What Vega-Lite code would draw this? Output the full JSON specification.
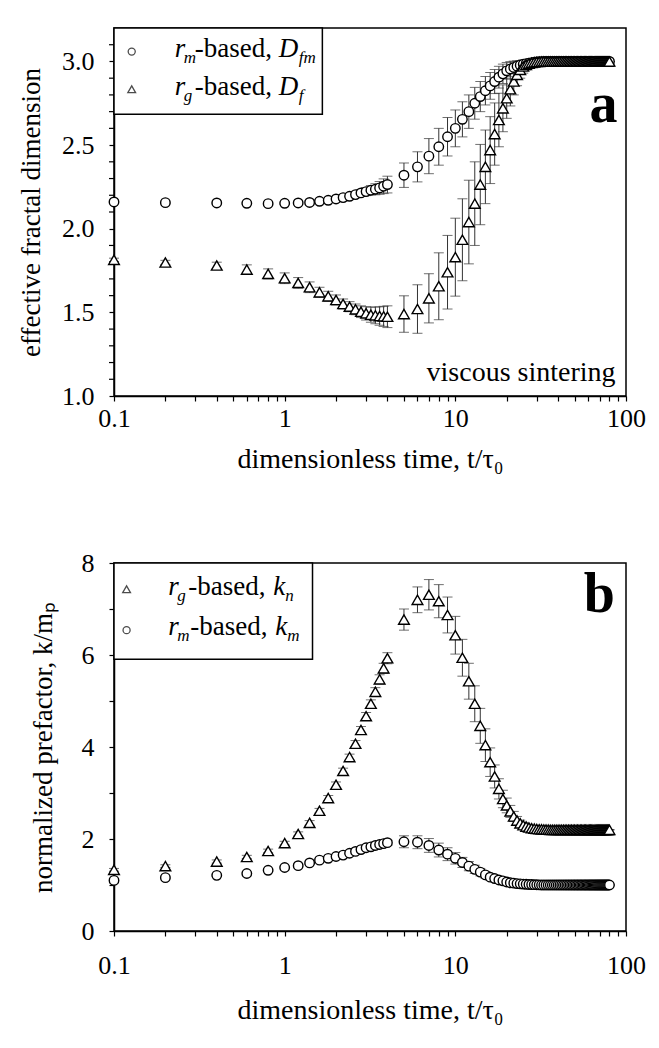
{
  "$schema": "https://vega.github.io/schema/vega-lite/v6.json",
  "padding": {"left": 16, "top": 26, "right": 5, "bottom": 5},
  "background": "white",
  "spacing": 75,
  "config": {
    "view": {"stroke": "black", "strokeWidth": 1.5},
    "font": "Liberation Serif, Times New Roman, serif",
    "axis": {
      "labelFont": "Liberation Serif, Times New Roman, serif", "titleFont": "Liberation Serif, Times New Roman, serif",
      "labelFontSize": 26, "titleFontSize": 27, "titleFontWeight": "normal",
      "labelColor": "black", "titleColor": "black",
      "domainColor": "black", "tickColor": "black", "domainWidth": 1.5, "tickWidth": 1.2, "tickSize": 5,
      "grid": false, "labelOverlap": false, "labelFlush": false
    },
    "axisY": {"labelPadding": 15}
  },
  "datasets": {
    "minor": [
      {"my":1.1},{"my":1.2},{"my":1.3},{"my":1.4},{"my":1.6},{"my":1.7},{"my":1.8},{"my":1.9},
      {"my":2.1},{"my":2.2},{"my":2.3},{"my":2.4},{"my":2.6},{"my":2.7},{"my":2.8},{"my":2.9},{"my":3.1}
    ],
    "d": [
      {"t":0.1,"am":2.16,"ame":0.005,"ag":1.814,"age":0.01,"bm":1.10,"bme":0.02,"bg":1.33,"bge":0.03},
      {"t":0.2,"am":2.156,"ame":0.005,"ag":1.798,"age":0.013,"bm":1.16,"bme":0.02,"bg":1.41,"bge":0.03},
      {"t":0.4,"am":2.154,"ame":0.005,"ag":1.78,"age":0.02,"bm":1.21,"bme":0.02,"bg":1.51,"bge":0.035},
      {"t":0.6,"am":2.152,"ame":0.005,"ag":1.756,"age":0.028,"bm":1.25,"bme":0.02,"bg":1.61,"bge":0.035},
      {"t":0.8,"am":2.15,"ame":0.005,"ag":1.73,"age":0.03,"bm":1.32,"bme":0.02,"bg":1.74,"bge":0.04},
      {"t":1.0,"am":2.152,"ame":0.006,"ag":1.704,"age":0.032,"bm":1.38,"bme":0.02,"bg":1.91,"bge":0.04},
      {"t":1.2,"am":2.154,"ame":0.007,"ag":1.676,"age":0.032,"bm":1.42,"bme":0.02,"bg":2.11,"bge":0.045},
      {"t":1.4,"am":2.157,"ame":0.008,"ag":1.65,"age":0.032,"bm":1.48,"bme":0.025,"bg":2.35,"bge":0.05},
      {"t":1.6,"am":2.164,"ame":0.009,"ag":1.62,"age":0.03,"bm":1.54,"bme":0.025,"bg":2.615,"bge":0.05},
      {"t":1.8,"am":2.17,"ame":0.01,"ag":1.596,"age":0.03,"bm":1.58,"bme":0.025,"bg":2.89,"bge":0.055},
      {"t":2.0,"am":2.178,"ame":0.012,"ag":1.574,"age":0.03,"bm":1.62,"bme":0.03,"bg":3.18,"bge":0.06},
      {"t":2.2,"am":2.186,"ame":0.014,"ag":1.55,"age":0.03,"bm":1.65,"bme":0.03,"bg":3.48,"bge":0.06},
      {"t":2.4,"am":2.194,"ame":0.016,"ag":1.534,"age":0.03,"bm":1.69,"bme":0.03,"bg":3.78,"bge":0.065},
      {"t":2.6,"am":2.204,"ame":0.018,"ag":1.518,"age":0.032,"bm":1.73,"bme":0.035,"bg":4.07,"bge":0.07},
      {"t":2.8,"am":2.214,"ame":0.02,"ag":1.504,"age":0.035,"bm":1.77,"bme":0.035,"bg":4.37,"bge":0.075},
      {"t":3.0,"am":2.222,"ame":0.024,"ag":1.494,"age":0.04,"bm":1.81,"bme":0.04,"bg":4.67,"bge":0.08},
      {"t":3.2,"am":2.23,"ame":0.028,"ag":1.486,"age":0.045,"bm":1.83,"bme":0.04,"bg":4.94,"bge":0.085},
      {"t":3.4,"am":2.236,"ame":0.033,"ag":1.482,"age":0.05,"bm":1.86,"bme":0.045,"bg":5.2,"bge":0.09},
      {"t":3.6,"am":2.244,"ame":0.038,"ag":1.478,"age":0.055,"bm":1.88,"bme":0.05,"bg":5.47,"bge":0.1},
      {"t":3.8,"am":2.254,"ame":0.044,"ag":1.476,"age":0.06,"bm":1.9,"bme":0.05,"bg":5.71,"bge":0.11},
      {"t":4.0,"am":2.264,"ame":0.05,"ag":1.474,"age":0.065,"bm":1.92,"bme":0.055,"bg":5.93,"bge":0.12},
      {"t":5,"am":2.32,"ame":0.073,"ag":1.49,"age":0.109,"bm":1.94,"bme":0.13,"bg":6.77,"bge":0.23},
      {"t":6,"am":2.37,"ame":0.09,"ag":1.52,"age":0.145,"bm":1.93,"bme":0.14,"bg":7.2,"bge":0.28},
      {"t":7,"am":2.434,"ame":0.105,"ag":1.584,"age":0.147,"bm":1.86,"bme":0.15,"bg":7.31,"bge":0.33},
      {"t":8,"am":2.49,"ame":0.11,"ag":1.656,"age":0.2,"bm":1.76,"bme":0.15,"bg":7.17,"bge":0.36},
      {"t":9,"am":2.55,"ame":0.115,"ag":1.74,"age":0.22,"bm":1.67,"bme":0.14,"bg":6.87,"bge":0.39},
      {"t":10,"am":2.6,"ame":0.11,"ag":1.83,"age":0.233,"bm":1.58,"bme":0.125,"bg":6.43,"bge":0.41},
      {"t":11,"am":2.654,"ame":0.105,"ag":1.934,"age":0.245,"bm":1.49,"bme":0.11,"bg":5.94,"bge":0.4},
      {"t":12,"am":2.70,"ame":0.1,"ag":2.04,"age":0.25,"bm":1.41,"bme":0.1,"bg":5.43,"bge":0.39},
      {"t":13,"am":2.75,"ame":0.095,"ag":2.15,"age":0.25,"bm":1.34,"bme":0.09,"bg":4.94,"bge":0.39},
      {"t":14,"am":2.79,"ame":0.09,"ag":2.264,"age":0.24,"bm":1.28,"bme":0.08,"bg":4.46,"bge":0.38},
      {"t":15,"am":2.825,"ame":0.085,"ag":2.37,"age":0.22,"bm":1.22,"bme":0.07,"bg":4.04,"bge":0.355},
      {"t":16,"am":2.854,"ame":0.08,"ag":2.47,"age":0.2,"bm":1.17,"bme":0.06,"bg":3.67,"bge":0.31},
      {"t":17,"am":2.88,"ame":0.072,"ag":2.566,"age":0.186,"bm":1.14,"bme":0.05,"bg":3.36,"bge":0.25},
      {"t":18,"am":2.906,"ame":0.065,"ag":2.65,"age":0.16,"bm":1.11,"bme":0.045,"bg":3.09,"bge":0.22},
      {"t":19,"am":2.926,"ame":0.058,"ag":2.72,"age":0.14,"bm":1.09,"bme":0.04,"bg":2.87,"bge":0.19},
      {"t":20,"am":2.944,"ame":0.05,"ag":2.78,"age":0.12,"bm":1.065,"bme":0.035,"bg":2.73,"bge":0.16},
      {"t":21,"am":2.955,"ame":0.044,"ag":2.834,"age":0.1,"bm":1.05,"bme":0.03,"bg":2.6,"bge":0.13},
      {"t":22,"am":2.964,"ame":0.038,"ag":2.88,"age":0.08,"bm":1.04,"bme":0.025,"bg":2.49,"bge":0.11},
      {"t":23,"am":2.972,"ame":0.032,"ag":2.92,"age":0.065,"bm":1.03,"bme":0.02,"bg":2.4,"bge":0.09},
      {"t":24,"am":2.978,"ame":0.027,"ag":2.95,"age":0.05,"bm":1.025,"bme":0.016,"bg":2.34,"bge":0.07},
      {"t":25,"am":2.983,"ame":0.022,"ag":2.97,"age":0.04,"bm":1.02,"bme":0.012,"bg":2.3,"bge":0.06},
      {"t":26,"am":2.987,"ame":0.018,"ag":2.98,"age":0.03,"bm":1.015,"bme":0.01,"bg":2.27,"bge":0.05},
      {"t":27,"am":2.99,"ame":0.014,"ag":2.987,"age":0.022,"bm":1.012,"bme":0.008,"bg":2.25,"bge":0.04},
      {"t":28,"am":2.993,"ame":0.01,"ag":2.992,"age":0.015,"bm":1.01,"bme":0.006,"bg":2.235,"bge":0.03},
      {"t":29,"am":2.995,"ame":0.007,"ag":2.995,"age":0.01,"bm":1.007,"bme":0.004,"bg":2.225,"bge":0.022},
      {"t":30,"am":2.997,"ame":0.005,"ag":2.997,"age":0.006,"bm":1.005,"bme":0.003,"bg":2.218,"bge":0.015},
      {"t":31,"am":2.998,"ame":0.003,"ag":2.998,"age":0.003,"bm":1.003,"bme":0.002,"bg":2.213,"bge":0.01},
      {"t":32,"am":2.999,"ame":0.002,"ag":2.999,"age":0.002,"bm":1.0,"bme":0,"bg":2.21,"bge":0.007},
      {"t":33,"am":3,"ame":0,"ag":3,"age":0,"bm":1,"bme":0,"bg":2.207,"bge":0.005},
      {"t":34,"am":3,"ame":0,"ag":3,"age":0,"bm":1,"bme":0,"bg":2.205,"bge":0.003},
      {"t":35,"am":3,"ame":0,"ag":3,"age":0,"bm":1,"bme":0,"bg":2.203,"bge":0.002},
      {"t":36,"am":3,"ame":0,"ag":3,"age":0,"bm":1,"bme":0,"bg":2.2,"bge":0},
      {"t":37,"am":3,"ame":0,"ag":3,"age":0,"bm":1,"bme":0,"bg":2.2,"bge":0},
      {"t":38,"am":3,"ame":0,"ag":3,"age":0,"bm":1,"bme":0,"bg":2.2,"bge":0},
      {"t":39,"am":3,"ame":0,"ag":3,"age":0,"bm":1,"bme":0,"bg":2.2,"bge":0},
      {"t":40,"am":3,"ame":0,"ag":3,"age":0,"bm":1,"bme":0,"bg":2.2,"bge":0},
      {"t":41,"am":3,"ame":0,"ag":3,"age":0,"bm":1,"bme":0,"bg":2.2,"bge":0},
      {"t":42,"am":3,"ame":0,"ag":3,"age":0,"bm":1,"bme":0,"bg":2.2,"bge":0},
      {"t":43,"am":3,"ame":0,"ag":3,"age":0,"bm":1,"bme":0,"bg":2.2,"bge":0},
      {"t":44,"am":3,"ame":0,"ag":3,"age":0,"bm":1,"bme":0,"bg":2.2,"bge":0},
      {"t":45,"am":3,"ame":0,"ag":3,"age":0,"bm":1,"bme":0,"bg":2.2,"bge":0},
      {"t":46,"am":3,"ame":0,"ag":3,"age":0,"bm":1,"bme":0,"bg":2.2,"bge":0},
      {"t":47,"am":3,"ame":0,"ag":3,"age":0,"bm":1,"bme":0,"bg":2.2,"bge":0},
      {"t":48,"am":3,"ame":0,"ag":3,"age":0,"bm":1,"bme":0,"bg":2.2,"bge":0},
      {"t":49,"am":3,"ame":0,"ag":3,"age":0,"bm":1,"bme":0,"bg":2.2,"bge":0},
      {"t":50,"am":3,"ame":0,"ag":3,"age":0,"bm":1,"bme":0,"bg":2.2,"bge":0},
      {"t":51,"am":3,"ame":0,"ag":3,"age":0,"bm":1,"bme":0,"bg":2.2,"bge":0},
      {"t":52,"am":3,"ame":0,"ag":3,"age":0,"bm":1,"bme":0,"bg":2.2,"bge":0},
      {"t":53,"am":3,"ame":0,"ag":3,"age":0,"bm":1,"bme":0,"bg":2.2,"bge":0},
      {"t":54,"am":3,"ame":0,"ag":3,"age":0,"bm":1,"bme":0,"bg":2.2,"bge":0},
      {"t":55,"am":3,"ame":0,"ag":3,"age":0,"bm":1,"bme":0,"bg":2.2,"bge":0},
      {"t":56,"am":3,"ame":0,"ag":3,"age":0,"bm":1,"bme":0,"bg":2.2,"bge":0},
      {"t":57,"am":3,"ame":0,"ag":3,"age":0,"bm":1,"bme":0,"bg":2.2,"bge":0},
      {"t":58,"am":3,"ame":0,"ag":3,"age":0,"bm":1,"bme":0,"bg":2.2,"bge":0},
      {"t":59,"am":3,"ame":0,"ag":3,"age":0,"bm":1,"bme":0,"bg":2.2,"bge":0},
      {"t":60,"am":3,"ame":0,"ag":3,"age":0,"bm":1,"bme":0,"bg":2.2,"bge":0},
      {"t":61,"am":3,"ame":0,"ag":3,"age":0,"bm":1,"bme":0,"bg":2.2,"bge":0},
      {"t":62,"am":3,"ame":0,"ag":3,"age":0,"bm":1,"bme":0,"bg":2.2,"bge":0},
      {"t":63,"am":3,"ame":0,"ag":3,"age":0,"bm":1,"bme":0,"bg":2.2,"bge":0},
      {"t":64,"am":3,"ame":0,"ag":3,"age":0,"bm":1,"bme":0,"bg":2.2,"bge":0},
      {"t":65,"am":3,"ame":0,"ag":3,"age":0,"bm":1,"bme":0,"bg":2.2,"bge":0},
      {"t":66,"am":3,"ame":0,"ag":3,"age":0,"bm":1,"bme":0,"bg":2.2,"bge":0},
      {"t":67,"am":3,"ame":0,"ag":3,"age":0,"bm":1,"bme":0,"bg":2.2,"bge":0},
      {"t":68,"am":3,"ame":0,"ag":3,"age":0,"bm":1,"bme":0,"bg":2.2,"bge":0},
      {"t":69,"am":3,"ame":0,"ag":3,"age":0,"bm":1,"bme":0,"bg":2.2,"bge":0},
      {"t":70,"am":3,"ame":0,"ag":3,"age":0,"bm":1,"bme":0,"bg":2.2,"bge":0},
      {"t":71,"am":3,"ame":0,"ag":3,"age":0,"bm":1,"bme":0,"bg":2.2,"bge":0},
      {"t":72,"am":3,"ame":0,"ag":3,"age":0,"bm":1,"bme":0,"bg":2.2,"bge":0},
      {"t":73,"am":3,"ame":0,"ag":3,"age":0,"bm":1,"bme":0,"bg":2.2,"bge":0},
      {"t":74,"am":3,"ame":0,"ag":3,"age":0,"bm":1,"bme":0,"bg":2.2,"bge":0},
      {"t":75,"am":3,"ame":0,"ag":3,"age":0,"bm":1,"bme":0,"bg":2.2,"bge":0},
      {"t":76,"am":3,"ame":0,"ag":3,"age":0,"bm":1,"bme":0,"bg":2.2,"bge":0},
      {"t":77,"am":3,"ame":0,"ag":3,"age":0,"bm":1,"bme":0,"bg":2.2,"bge":0},
      {"t":78,"am":3,"ame":0,"ag":3,"age":0,"bm":1,"bme":0,"bg":2.2,"bge":0},
      {"t":79,"am":3,"ame":0,"ag":3,"age":0,"bm":1,"bme":0,"bg":2.2,"bge":0},
      {"t":80,"am":3,"ame":0,"ag":3,"age":0,"bm":1,"bme":0,"bg":2.2,"bge":0}
    ]
  },
  "vconcat": [
    {
      "width": 512,
      "height": 368,
      "data": {"name": "d"},
      "layer": [
        {
          "mark": {"type": "point", "shape": "circle", "size": 90, "opacity": 0},
          "encoding": {
            "x": {"field": "t", "type": "quantitative", "scale": {"type": "log", "domain": [0.1, 100]},
              "axis": {"values": [0.1,0.2,0.3,0.4,0.5,0.6,0.7,0.8,0.9,1,2,3,4,5,6,7,8,9,10,20,30,40,50,60,70,80,90,100],
                "labelExpr": "datum.value == 0.1 ? '0.1' : datum.value == 1 ? '1' : datum.value == 10 ? '10' : datum.value == 100 ? '100' : ''",
                "labelOverlap": false, "labelPadding": 4, "titlePadding": 14, "titleFontSize": 28,
                "title": "dimensionless time, t/τ₀"}},
            "y": {"field": "am", "type": "quantitative", "scale": {"domain": [1, 3.2], "nice": false, "zero": false},
              "axis": {"values": [1, 1.5, 2, 2.5, 3], "format": ".1f", "labelOverlap": false,
                "title": "effective fractal dimension", "titlePadding": 16}}
          }
        },
        {
          "data": {"name": "minor"},
          "mark": {"type": "rule", "color": "black", "strokeWidth": 1.2, "clip": false},
          "encoding": {
            "x": {"datum": 0.0935, "type": "quantitative"},
            "x2": {"datum": 0.1},
            "y": {"field": "my", "type": "quantitative", "title": "effective fractal dimension"}
          }
        },
        {
          "mark": {"type": "errorbar", "ticks": true, "size": 10, "thickness": 1, "color": "#333"},
          "encoding": {
            "x": {"field": "t", "type": "quantitative"},
            "y": {"field": "am", "type": "quantitative", "title": "effective fractal dimension"},
            "yError": {"field": "ame"}
          }
        },
        {
          "mark": {"type": "errorbar", "ticks": true, "size": 10, "thickness": 1, "color": "#333"},
          "encoding": {
            "x": {"field": "t", "type": "quantitative"},
            "y": {"field": "ag", "type": "quantitative", "title": "effective fractal dimension"},
            "yError": {"field": "age"}
          }
        },
        {
          "mark": {"type": "point", "shape": "circle", "filled": true, "fill": "white", "stroke": "black", "strokeWidth": 1.4, "size": 90, "opacity": 1},
          "encoding": {
            "x": {"field": "t", "type": "quantitative"},
            "y": {"field": "am", "type": "quantitative", "title": "effective fractal dimension"}
          }
        },
        {
          "mark": {"type": "point", "shape": "triangle-up", "filled": true, "fill": "white", "stroke": "black", "strokeWidth": 1.4, "size": 115, "opacity": 1},
          "encoding": {
            "x": {"field": "t", "type": "quantitative"},
            "y": {"field": "ag", "type": "quantitative", "title": "effective fractal dimension"}
          }
        },
        {
          "data": {"values": [{}]},
          "mark": {"type": "rect", "fill": "white", "stroke": "black", "strokeWidth": 1.5},
          "encoding": {"x": {"datum": 0.1, "type": "quantitative"}, "x2": {"datum": 1.663}, "y": {"datum": 3.2, "type": "quantitative"}, "y2": {"datum": 2.684}}
        },
        {
          "data": {"values": [{}]},
          "mark": {"type": "point", "shape": "circle", "filled": true, "fill": "white", "stroke": "black", "strokeWidth": 1.3, "size": 50},
          "encoding": {"x": {"datum": 0.127, "type": "quantitative"}, "y": {"datum": 3.059, "type": "quantitative"}}
        },
        {
          "data": {"values": [{}]},
          "mark": {"type": "point", "shape": "triangle-up", "filled": true, "fill": "white", "stroke": "black", "strokeWidth": 1.3, "size": 60},
          "encoding": {"x": {"datum": 0.127, "type": "quantitative"}, "y": {"datum": 2.834, "type": "quantitative"}}
        },
        {"data": {"values": [{}]}, "mark": {"type": "text", "text": "r", "font": "Liberation Serif, Times New Roman, serif", "fontStyle": "italic", "fontSize": 27, "align": "left", "baseline": "alphabetic", "color": "black"},
          "encoding": {"x": {"datum": 0.2268, "type": "quantitative"}, "y": {"datum": 3.026, "type": "quantitative"}}},
        {"data": {"values": [{}]}, "mark": {"type": "text", "text": "m", "font": "Liberation Serif, Times New Roman, serif", "fontStyle": "italic", "fontSize": 17, "align": "left", "baseline": "alphabetic", "dx": 9, "dy": 6, "color": "black"},
          "encoding": {"x": {"datum": 0.2268, "type": "quantitative"}, "y": {"datum": 3.026, "type": "quantitative"}}},
        {"data": {"values": [{}]}, "mark": {"type": "text", "text": "-based,", "font": "Liberation Serif, Times New Roman, serif", "fontSize": 27, "align": "left", "baseline": "alphabetic", "dx": 20, "color": "black"},
          "encoding": {"x": {"datum": 0.2268, "type": "quantitative"}, "y": {"datum": 3.026, "type": "quantitative"}}},
        {"data": {"values": [{}]}, "mark": {"type": "text", "text": "D", "font": "Liberation Serif, Times New Roman, serif", "fontStyle": "italic", "fontSize": 27, "align": "left", "baseline": "alphabetic", "dx": 104, "color": "black"},
          "encoding": {"x": {"datum": 0.2268, "type": "quantitative"}, "y": {"datum": 3.026, "type": "quantitative"}}},
        {"data": {"values": [{}]}, "mark": {"type": "text", "text": "fm", "font": "Liberation Serif, Times New Roman, serif", "fontStyle": "italic", "fontSize": 17, "align": "left", "baseline": "alphabetic", "dx": 124, "dy": 6, "color": "black"},
          "encoding": {"x": {"datum": 0.2268, "type": "quantitative"}, "y": {"datum": 3.026, "type": "quantitative"}}},
        {"data": {"values": [{}]}, "mark": {"type": "text", "text": "r", "font": "Liberation Serif, Times New Roman, serif", "fontStyle": "italic", "fontSize": 27, "align": "left", "baseline": "alphabetic", "color": "black"},
          "encoding": {"x": {"datum": 0.2268, "type": "quantitative"}, "y": {"datum": 2.80, "type": "quantitative"}}},
        {"data": {"values": [{}]}, "mark": {"type": "text", "text": "g", "font": "Liberation Serif, Times New Roman, serif", "fontStyle": "italic", "fontSize": 17, "align": "left", "baseline": "alphabetic", "dx": 9, "dy": 6, "color": "black"},
          "encoding": {"x": {"datum": 0.2268, "type": "quantitative"}, "y": {"datum": 2.80, "type": "quantitative"}}},
        {"data": {"values": [{}]}, "mark": {"type": "text", "text": "-based,", "font": "Liberation Serif, Times New Roman, serif", "fontSize": 27, "align": "left", "baseline": "alphabetic", "dx": 20, "color": "black"},
          "encoding": {"x": {"datum": 0.2268, "type": "quantitative"}, "y": {"datum": 2.80, "type": "quantitative"}}},
        {"data": {"values": [{}]}, "mark": {"type": "text", "text": "D", "font": "Liberation Serif, Times New Roman, serif", "fontStyle": "italic", "fontSize": 27, "align": "left", "baseline": "alphabetic", "dx": 104, "color": "black"},
          "encoding": {"x": {"datum": 0.2268, "type": "quantitative"}, "y": {"datum": 2.80, "type": "quantitative"}}},
        {"data": {"values": [{}]}, "mark": {"type": "text", "text": "f", "font": "Liberation Serif, Times New Roman, serif", "fontStyle": "italic", "fontSize": 17, "align": "left", "baseline": "alphabetic", "dx": 124, "dy": 6, "color": "black"},
          "encoding": {"x": {"datum": 0.2268, "type": "quantitative"}, "y": {"datum": 2.80, "type": "quantitative"}}},
        {"data": {"values": [{}]}, "mark": {"type": "text", "text": "a", "font": "Liberation Serif, Times New Roman, serif", "fontWeight": "bold", "fontSize": 56, "align": "right", "baseline": "alphabetic", "color": "black"},
          "encoding": {"x": {"datum": 89.3, "type": "quantitative"}, "y": {"datum": 2.64, "type": "quantitative"}}},
        {"data": {"values": [{}]}, "mark": {"type": "text", "text": "viscous sintering", "font": "Liberation Serif, Times New Roman, serif", "fontSize": 28, "align": "right", "baseline": "alphabetic", "color": "black"},
          "encoding": {"x": {"datum": 86.9, "type": "quantitative"}, "y": {"datum": 1.09, "type": "quantitative"}}}
      ]
    },
    {
      "width": 512,
      "height": 368,
      "data": {"name": "d"},
      "layer": [
        {
          "mark": {"type": "point", "shape": "circle", "size": 90, "opacity": 0},
          "encoding": {
            "x": {"field": "t", "type": "quantitative", "scale": {"type": "log", "domain": [0.1, 100]},
              "axis": {"values": [0.1,0.2,0.3,0.4,0.5,0.6,0.7,0.8,0.9,1,2,3,4,5,6,7,8,9,10,20,30,40,50,60,70,80,90,100],
                "labelExpr": "datum.value == 0.1 ? '0.1' : datum.value == 1 ? '1' : datum.value == 10 ? '10' : datum.value == 100 ? '100' : ''",
                "labelOverlap": false, "labelPadding": 16, "titlePadding": 18, "titleFontSize": 28,
                "title": "dimensionless time, t/τ₀"}},
            "y": {"field": "bg", "type": "quantitative", "scale": {"domain": [0, 8], "nice": false},
              "axis": {"values": [0,1,2,3,4,5,6,7,8],
                "labelExpr": "datum.value % 2 == 0 ? format(datum.value, 'd') : ''",
                "labelOverlap": false,
                "title": "normalized prefactor, k/mₚ", "titlePadding": 23.7}}
          }
        },
        {
          "mark": {"type": "errorbar", "ticks": true, "size": 10, "thickness": 1, "color": "#333"},
          "encoding": {
            "x": {"field": "t", "type": "quantitative"},
            "y": {"field": "bg", "type": "quantitative", "title": "normalized prefactor, k/mₚ"},
            "yError": {"field": "bge"}
          }
        },
        {
          "mark": {"type": "errorbar", "ticks": true, "size": 10, "thickness": 1, "color": "#333"},
          "encoding": {
            "x": {"field": "t", "type": "quantitative"},
            "y": {"field": "bm", "type": "quantitative", "title": "normalized prefactor, k/mₚ"},
            "yError": {"field": "bme"}
          }
        },
        {
          "mark": {"type": "point", "shape": "triangle-up", "filled": true, "fill": "white", "stroke": "black", "strokeWidth": 1.4, "size": 115, "opacity": 1},
          "encoding": {
            "x": {"field": "t", "type": "quantitative"},
            "y": {"field": "bg", "type": "quantitative", "title": "normalized prefactor, k/mₚ"}
          }
        },
        {
          "mark": {"type": "point", "shape": "circle", "filled": true, "fill": "white", "stroke": "black", "strokeWidth": 1.4, "size": 90, "opacity": 1},
          "encoding": {
            "x": {"field": "t", "type": "quantitative"},
            "y": {"field": "bm", "type": "quantitative", "title": "normalized prefactor, k/mₚ"}
          }
        },
        {
          "data": {"values": [{}]},
          "mark": {"type": "rect", "fill": "white", "stroke": "black", "strokeWidth": 1.5},
          "encoding": {"x": {"datum": 0.1, "type": "quantitative"}, "x2": {"datum": 1.456}, "y": {"datum": 8, "type": "quantitative"}, "y2": {"datum": 5.91}}
        },
        {
          "data": {"values": [{}]},
          "mark": {"type": "point", "shape": "triangle-up", "filled": true, "fill": "white", "stroke": "black", "strokeWidth": 1.3, "size": 60},
          "encoding": {"x": {"datum": 0.1185, "type": "quantitative"}, "y": {"datum": 7.43, "type": "quantitative"}}
        },
        {
          "data": {"values": [{}]},
          "mark": {"type": "point", "shape": "circle", "filled": true, "fill": "white", "stroke": "black", "strokeWidth": 1.3, "size": 50},
          "encoding": {"x": {"datum": 0.1185, "type": "quantitative"}, "y": {"datum": 6.54, "type": "quantitative"}}
        },
        {"data": {"values": [{}]}, "mark": {"type": "text", "text": "r", "font": "Liberation Serif, Times New Roman, serif", "fontStyle": "italic", "fontSize": 27, "align": "left", "baseline": "alphabetic", "color": "black"},
          "encoding": {"x": {"datum": 0.208, "type": "quantitative"}, "y": {"datum": 7.30, "type": "quantitative"}}},
        {"data": {"values": [{}]}, "mark": {"type": "text", "text": "g", "font": "Liberation Serif, Times New Roman, serif", "fontStyle": "italic", "fontSize": 17, "align": "left", "baseline": "alphabetic", "dx": 9, "dy": 6, "color": "black"},
          "encoding": {"x": {"datum": 0.208, "type": "quantitative"}, "y": {"datum": 7.30, "type": "quantitative"}}},
        {"data": {"values": [{}]}, "mark": {"type": "text", "text": "-based,", "font": "Liberation Serif, Times New Roman, serif", "fontSize": 27, "align": "left", "baseline": "alphabetic", "dx": 20, "color": "black"},
          "encoding": {"x": {"datum": 0.208, "type": "quantitative"}, "y": {"datum": 7.30, "type": "quantitative"}}},
        {"data": {"values": [{}]}, "mark": {"type": "text", "text": "k", "font": "Liberation Serif, Times New Roman, serif", "fontStyle": "italic", "fontSize": 27, "align": "left", "baseline": "alphabetic", "dx": 105, "color": "black"},
          "encoding": {"x": {"datum": 0.208, "type": "quantitative"}, "y": {"datum": 7.30, "type": "quantitative"}}},
        {"data": {"values": [{}]}, "mark": {"type": "text", "text": "n", "font": "Liberation Serif, Times New Roman, serif", "fontStyle": "italic", "fontSize": 17, "align": "left", "baseline": "alphabetic", "dx": 117, "dy": 6, "color": "black"},
          "encoding": {"x": {"datum": 0.208, "type": "quantitative"}, "y": {"datum": 7.30, "type": "quantitative"}}},
        {"data": {"values": [{}]}, "mark": {"type": "text", "text": "r", "font": "Liberation Serif, Times New Roman, serif", "fontStyle": "italic", "fontSize": 27, "align": "left", "baseline": "alphabetic", "color": "black"},
          "encoding": {"x": {"datum": 0.208, "type": "quantitative"}, "y": {"datum": 6.43, "type": "quantitative"}}},
        {"data": {"values": [{}]}, "mark": {"type": "text", "text": "m", "font": "Liberation Serif, Times New Roman, serif", "fontStyle": "italic", "fontSize": 17, "align": "left", "baseline": "alphabetic", "dx": 9, "dy": 6, "color": "black"},
          "encoding": {"x": {"datum": 0.208, "type": "quantitative"}, "y": {"datum": 6.43, "type": "quantitative"}}},
        {"data": {"values": [{}]}, "mark": {"type": "text", "text": "-based,", "font": "Liberation Serif, Times New Roman, serif", "fontSize": 27, "align": "left", "baseline": "alphabetic", "dx": 22, "color": "black"},
          "encoding": {"x": {"datum": 0.208, "type": "quantitative"}, "y": {"datum": 6.43, "type": "quantitative"}}},
        {"data": {"values": [{}]}, "mark": {"type": "text", "text": "k", "font": "Liberation Serif, Times New Roman, serif", "fontStyle": "italic", "fontSize": 27, "align": "left", "baseline": "alphabetic", "dx": 107, "color": "black"},
          "encoding": {"x": {"datum": 0.208, "type": "quantitative"}, "y": {"datum": 6.43, "type": "quantitative"}}},
        {"data": {"values": [{}]}, "mark": {"type": "text", "text": "m", "font": "Liberation Serif, Times New Roman, serif", "fontStyle": "italic", "fontSize": 17, "align": "left", "baseline": "alphabetic", "dx": 119, "dy": 6, "color": "black"},
          "encoding": {"x": {"datum": 0.208, "type": "quantitative"}, "y": {"datum": 6.43, "type": "quantitative"}}},
        {"data": {"values": [{}]}, "mark": {"type": "text", "text": "b", "font": "Liberation Serif, Times New Roman, serif", "fontWeight": "bold", "fontSize": 56, "align": "right", "baseline": "alphabetic", "color": "black"},
          "encoding": {"x": {"datum": 86.1, "type": "quantitative"}, "y": {"datum": 6.94, "type": "quantitative"}}}
      ]
    }
  ]
}
